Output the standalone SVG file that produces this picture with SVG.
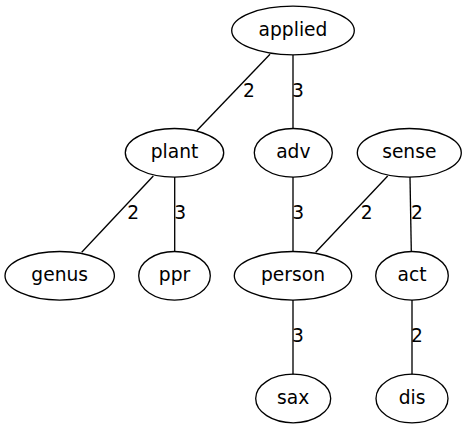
<svg xmlns="http://www.w3.org/2000/svg" width="467" height="429" viewBox="0 0 467 429">
<style>
.n ellipse{fill:none;stroke:#000;stroke-width:1.33}
text{font-family:"DejaVu Sans",sans-serif;font-size:18.67px;fill:#000;text-anchor:middle}
.e line{stroke:#000;stroke-width:1.33}
</style>
<rect width="467" height="429" fill="#fff"/>
<g id="edges" class="e">
<line x1="270" y1="54.3" x2="196.7" y2="130.7"/>
<line x1="293" y1="55" x2="293" y2="128.5"/>
<line x1="153.3" y1="176" x2="81.7" y2="252.3"/>
<line x1="174.7" y1="177" x2="174.7" y2="251.5"/>
<line x1="293" y1="177" x2="293" y2="251.5"/>
<line x1="387.7" y1="176" x2="315.7" y2="252.3"/>
<line x1="410" y1="177" x2="411.3" y2="251.5"/>
<line x1="293" y1="300" x2="293" y2="374.5"/>
<line x1="412" y1="300" x2="412" y2="374.5"/>
<text x="249" y="97">2</text>
<text x="298" y="97">3</text>
<text x="133.3" y="219">2</text>
<text x="180.3" y="219">3</text>
<text x="298.3" y="219">3</text>
<text x="366.7" y="219">2</text>
<text x="417" y="219">2</text>
<text x="298" y="342">3</text>
<text x="417" y="342">2</text>
</g>
<g id="applied" class="n"><ellipse cx="293" cy="30.5" rx="61.3" ry="24.3"/><text x="293" y="36">applied</text></g>
<g id="plant" class="n"><ellipse cx="174.5" cy="152.8" rx="49.2" ry="24.3"/><text x="174.5" y="158.3">plant</text></g>
<g id="adv" class="n"><ellipse cx="293.3" cy="152.8" rx="39" ry="24.3"/><text x="293.3" y="158.3">adv</text></g>
<g id="sense" class="n"><ellipse cx="409.3" cy="152.8" rx="52" ry="24.3"/><text x="409.3" y="158.3">sense</text></g>
<g id="genus" class="n"><ellipse cx="59.7" cy="275.8" rx="54.7" ry="24.3"/><text x="59.7" y="281.3">genus</text></g>
<g id="ppr" class="n"><ellipse cx="174.5" cy="275.8" rx="35.8" ry="24.3"/><text x="174.5" y="281.3">ppr</text></g>
<g id="person" class="n"><ellipse cx="293" cy="275.8" rx="58.7" ry="24.3"/><text x="293" y="281.3">person</text></g>
<g id="act" class="n"><ellipse cx="412" cy="275.8" rx="36.3" ry="24.3"/><text x="412" y="281.3">act</text></g>
<g id="sax" class="n"><ellipse cx="293.2" cy="398.5" rx="37.5" ry="24.3"/><text x="293.2" y="404">sax</text></g>
<g id="dis" class="n"><ellipse cx="412" cy="398.5" rx="36" ry="24.3"/><text x="412" y="404">dis</text></g>
</svg>
